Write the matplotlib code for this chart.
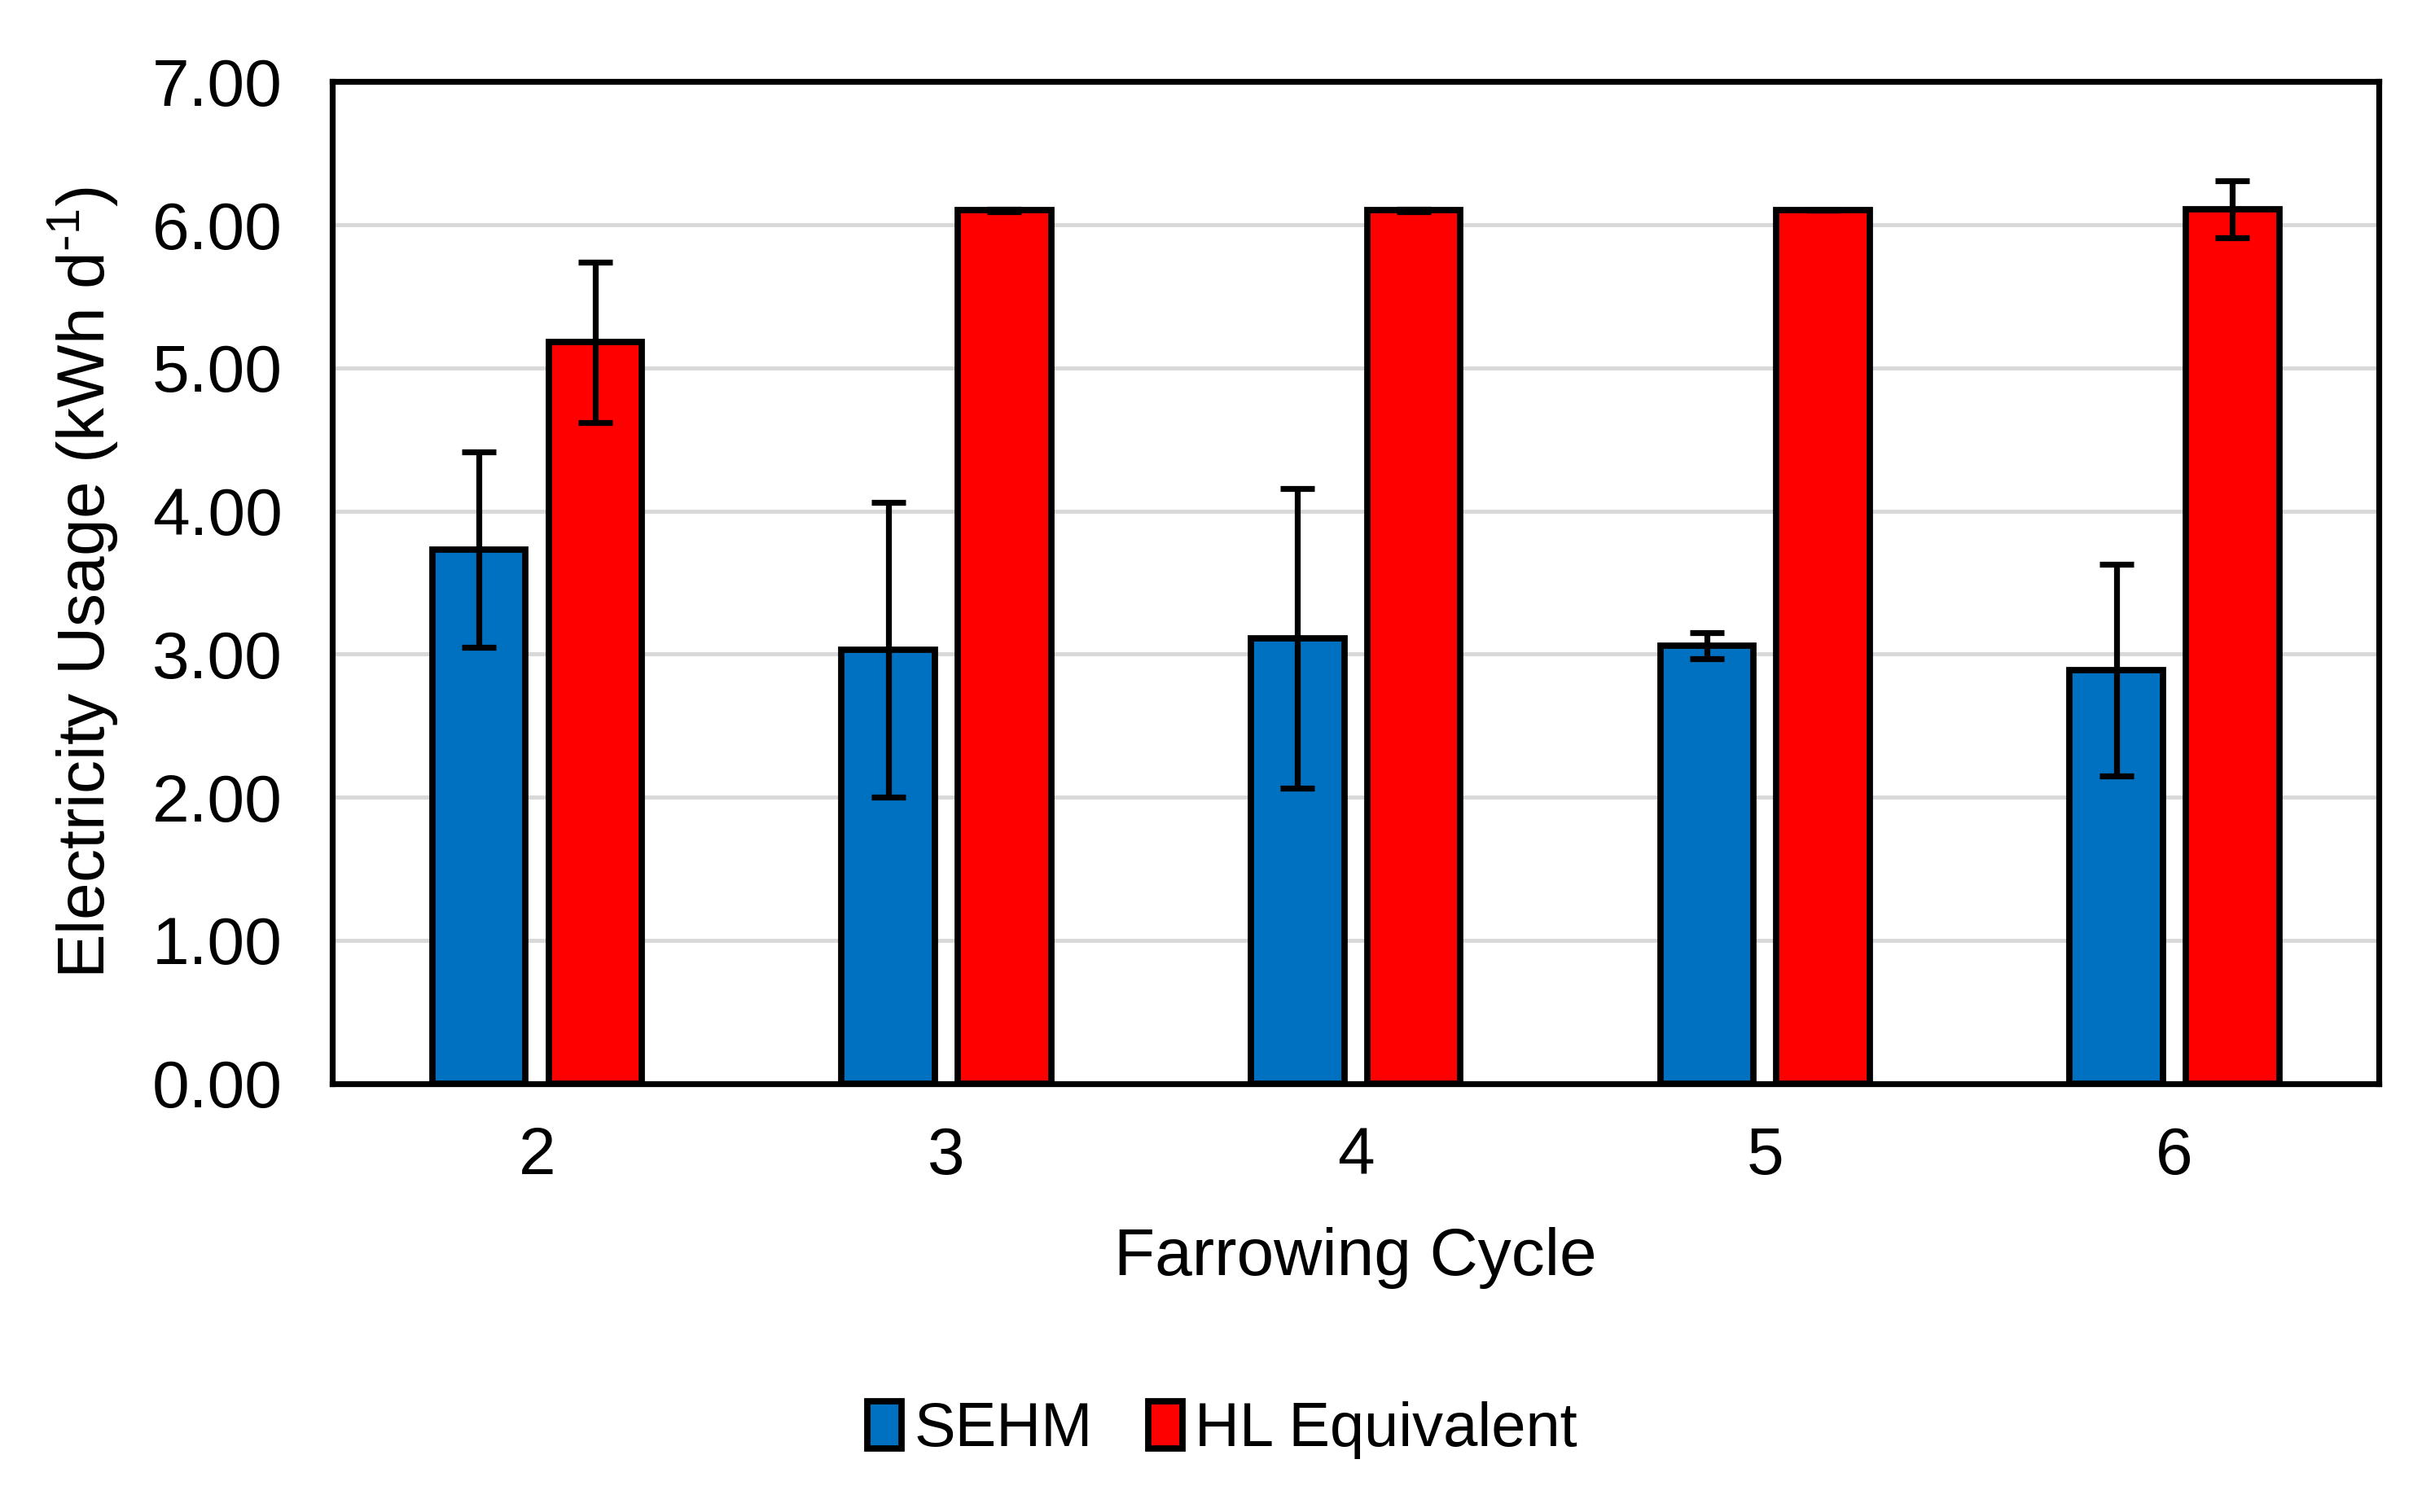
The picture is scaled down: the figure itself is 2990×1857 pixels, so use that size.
import numpy as np
import matplotlib
matplotlib.use("Agg")
import matplotlib.pyplot as plt

plt.rcParams['font.family'] = ['Liberation Sans', 'DejaVu Sans']
plt.rcParams['mathtext.default'] = 'regular'

## Donnees
cycles = ["2", "3", "4", "5", "6"]
sehm = [3.73, 3.03, 3.11, 3.06, 2.89]
sehm_err = [0.685, 1.03, 1.045, 0.09, 0.74]
hl = [5.18, 6.10, 6.10, 6.10, 6.11]
hl_err = [0.56, 0.01, 0.01, 0.0, 0.2]

## Figure
fig = plt.figure(figsize=(14.95, 9.285), dpi=200)
ax = fig.add_axes([0.1365, 0.2835, 0.8405, 0.6625])

x = np.arange(len(cycles))
w = 0.228
off = 0.142
ekw = dict(ecolor="black", elinewidth=2.6, capsize=7.5, capthick=2.6)

b1 = ax.bar(x - off, sehm, w, yerr=sehm_err, color="#0070C0",
            edgecolor="black", linewidth=2.8, error_kw=ekw, label="SEHM")
b2 = ax.bar(x + off, hl, w, yerr=hl_err, color="#FF0000",
            edgecolor="black", linewidth=2.8, error_kw=ekw, label="HL Equivalent")

ax.set_xlim(-0.5, len(cycles) - 0.5)
ax.set_ylim(0, 7)
ax.set_yticks(np.arange(0, 7.01, 1))
ax.set_yticklabels(["%.2f" % v for v in np.arange(0, 7.01, 1)])
ax.set_xticks(x)
ax.set_xticklabels(cycles)
ax.tick_params(axis="both", length=0, labelsize=29.5)
ax.tick_params(axis="y", pad=22)
ax.tick_params(axis="x", pad=19)

ax.yaxis.grid(True, color="#d9d9d9", linewidth=1.8)
ax.set_axisbelow(True)
for s in ax.spines.values():
    s.set_linewidth(2.6)
    s.set_color("black")

ax.set_xlabel("Farrowing Cycle", fontsize=29.5, labelpad=17)
ax.set_ylabel(r"Electricity Usage (kWh d$^{\text{-}1}$)", fontsize=29.5, labelpad=14)

fig.legend(handles=[b1, b2], loc="center", bbox_to_anchor=(0.502, 0.054),
           ncol=2, frameon=False, fontsize=27.3, handlelength=0.55,
           handleheight=0.8, handletextpad=0.2, columnspacing=0.9)

fig.savefig("out.png", dpi=200)
